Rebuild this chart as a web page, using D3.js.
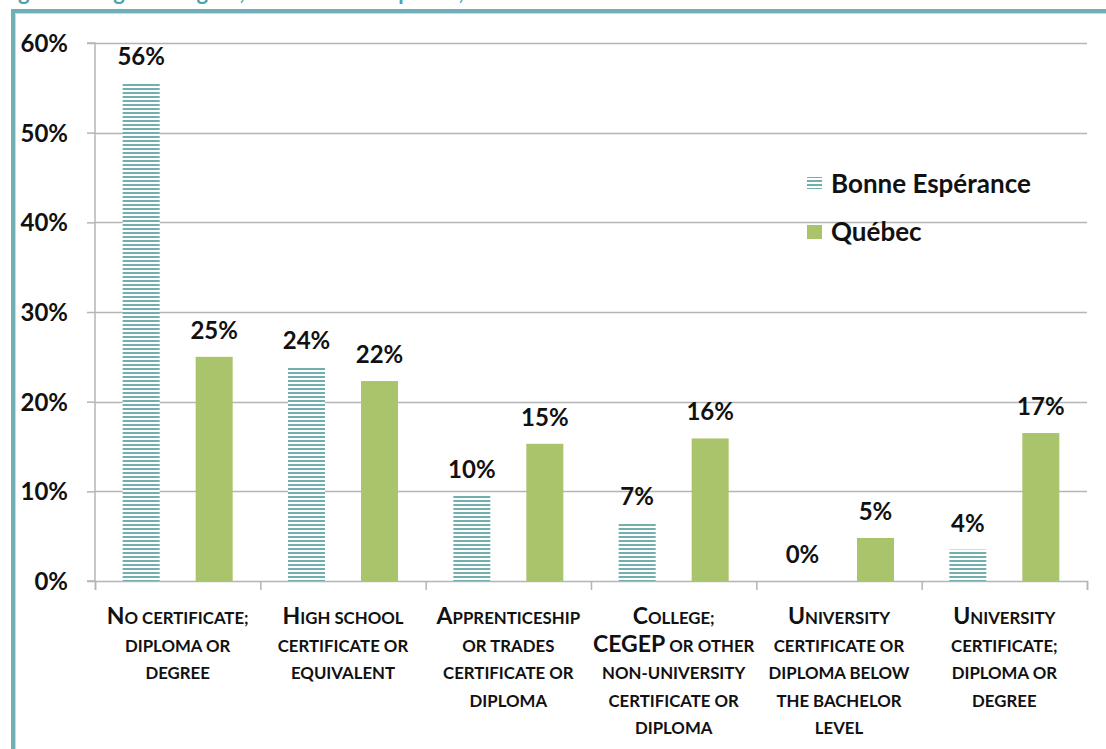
<!DOCTYPE html>
<html>
<head>
<meta charset="utf-8">
<script src="https://cdn.jsdelivr.net/npm/d3@7"></script>
<style>
  body { margin: 0; background: #fff; }
  svg { display: block; }
  .ylab text { font-family: Lato, sans-serif; font-weight: bold; font-size: 24px; fill: #111; }
</style>
</head>
<body>
<div id="chart"></div>
<script>
// data
var categories = [
  ["No certificate;", "diploma or", "degree"],
  ["High school", "certificate or", "equivalent"],
  ["Apprenticeship", "or trades", "certificate or", "diploma"],
  ["College;", "CEGEP or other", "non-university", "certificate or", "diploma"],
  ["University", "certificate or", "diploma below", "the bachelor", "level"],
  ["University", "certificate;", "diploma or", "degree"]
];
var bonneEsperance = [55.5, 23.9, 9.5, 6.5, 0, 3.5];
var quebec = [25.0, 22.3, 15.3, 15.9, 4.8, 16.5];
var seriesNames = ["Bonne Espérance", "Québec"];
var yTicks = [0, 10, 20, 30, 40, 50, 60];

var W = 1106, H = 749;
var teal = "#72aeae", green = "#a9c46b", grid = "#b5b5b5";

var svg = d3.select("#chart").append("svg")
    .attr("width", W)
    .attr("height", H);

var defs = svg.append("defs");
var pat = defs.append("pattern")
    .attr("id", "stripes")
    .attr("patternUnits", "userSpaceOnUse")
    .attr("width", 8).attr("height", 4);
pat.append("rect").attr("width", 8).attr("height", 4).attr("fill", "#fff");
pat.append("rect").attr("width", 8).attr("height", 2).attr("fill", teal);

// frame + clipped title
svg.append("text")
    .attr("x", 0).attr("y", 0)
    .attr("font-family", "Lato, sans-serif")
    .attr("font-weight", "bold")
    .attr("font-size", 22)
    .attr("fill", "#4fa3ad")
    .text("Figure 8: Highest degree, certificate or diploma, 2011");
svg.append("rect")
    .attr("x", 13).attr("y", 11)
    .attr("width", W + 20).attr("height", H + 20)
    .attr("fill", "none")
    .attr("stroke", "#6fb0b8")
    .attr("stroke-width", 4);
svg.append("rect")
    .attr("x", 15.5).attr("y", 13.5)
    .attr("width", W + 20).attr("height", H + 20)
    .attr("fill", "none")
    .attr("stroke", "#bfe0e3")
    .attr("stroke-width", 1);

// scales
var plotL = 95, plotR = 1087, plotT = 43, plotB = 581;
var y = d3.scaleLinear().domain([0, 60]).range([plotB, plotT]);
var x0 = d3.scaleBand().domain(d3.range(categories.length)).range([plotL, plotR]);
var x1 = d3.scaleBand().domain([0, 1]).range([0, x0.bandwidth()])
    .paddingInner(0.493).paddingOuter(0.379);
var xEdge = d3.scaleLinear().domain([0, categories.length]).range([plotL, plotR]);

// gridlines
svg.append("g")
  .selectAll("line")
  .data(yTicks.slice(1))
  .join("line")
    .attr("x1", plotL).attr("x2", plotR)
    .attr("y1", function(d) { return Math.round(y(d)) + 0.5; })
    .attr("y2", function(d) { return Math.round(y(d)) + 0.5; })
    .attr("stroke", grid)
    .attr("stroke-width", 1.5);

// y axis
var yAxis = svg.append("g")
    .attr("class", "ylab")
    .attr("transform", "translate(" + plotL + ",0)")
    .call(d3.axisLeft(y).tickValues(yTicks).tickSize(8).tickPadding(19)
      .tickFormat(function(d) { return d + "%"; }));
yAxis.selectAll("line, path").attr("stroke", grid).attr("stroke-width", 1.5);
yAxis.select(".domain").attr("d", "M-8," + plotT + "H0V" + plotB + "H-8");
yAxis.selectAll("text").attr("dy", "0.36em");

// x axis (category boundary ticks only)
var xAxis = svg.append("g")
    .attr("transform", "translate(0," + plotB + ")")
    .call(d3.axisBottom(xEdge).tickValues(d3.range(categories.length + 1))
      .tickSize(9).tickFormat(""));
xAxis.selectAll("line, path").attr("stroke", grid).attr("stroke-width", 1.5);

// bars
var series = [bonneEsperance, quebec];
var fills = ["url(#stripes)", green];
series.forEach(function(vals, s) {
  svg.append("g")
    .selectAll("rect")
    .data(vals)
    .join("rect")
      .attr("x", function(d, i) { return x0(i) + x1(s); })
      .attr("y", function(d) { return y(d); })
      .attr("width", x1.bandwidth())
      .attr("height", function(d) { return plotB - y(d); })
      .attr("fill", fills[s]);

  svg.append("g")
    .selectAll("text")
    .data(vals)
    .join("text")
      .attr("x", function(d, i) { return x0(i) + x1(s) + x1.bandwidth() / 2; })
      .attr("y", function(d) { return y(d) - 18; })
      .attr("text-anchor", "middle")
      .attr("font-family", "Lato, sans-serif")
      .attr("font-weight", "bold")
      .attr("font-size", 24)
      .attr("fill", "#111")
      .text(function(d) { return Math.round(d) + "%"; });
});

// category labels, small caps done by hand
function smallCaps(textSel, str, big, small) {
  var runs = [];
  str.split("").forEach(function(ch) {
    var isBig = ch >= "A" && ch <= "Z";
    if (runs.length && runs[runs.length - 1].big === isBig) runs[runs.length - 1].t += ch;
    else runs.push({big: isBig, t: ch});
  });
  runs.forEach(function(r) {
    textSel.append("tspan")
      .attr("font-size", r.big ? big : small)
      .text(r.t.toUpperCase());
  });
}

var catG = svg.append("g")
    .attr("font-family", "Lato, sans-serif")
    .attr("font-weight", "bold")
    .attr("fill", "#111");
categories.forEach(function(lines, i) {
  lines.forEach(function(line, j) {
    var t = catG.append("text")
      .attr("x", x0(i) + x0.bandwidth() / 2)
      .attr("y", 624 + j * 27.5)
      .attr("text-anchor", "middle");
    smallCaps(t, line, 23, 16.8);
  });
});

// legend
var legend = svg.append("g")
    .attr("font-family", "Lato, sans-serif")
    .attr("font-weight", "bold")
    .attr("font-size", 26)
    .attr("fill", "#111");
seriesNames.forEach(function(name, s) {
  var ly = 177 + s * 48;
  legend.append("rect")
    .attr("x", 807).attr("y", ly)
    .attr("width", 15).attr("height", s === 0 ? 12 : 14)
    .attr("fill", fills[s]);
  legend.append("text")
    .attr("x", 831).attr("y", ly + 16)
    .text(name);
});
</script>
</body>
</html>
